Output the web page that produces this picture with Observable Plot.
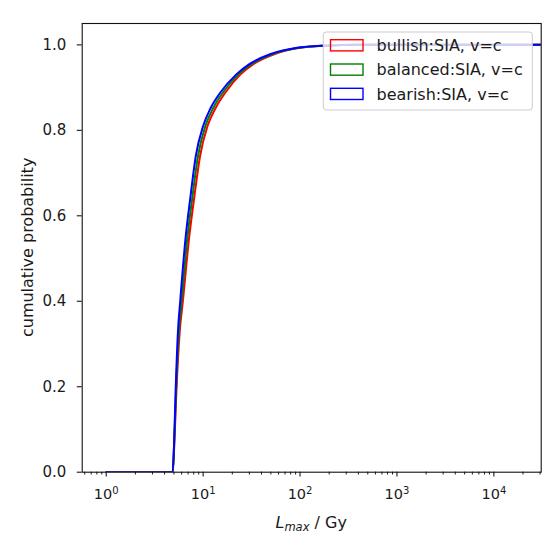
<!DOCTYPE html>
<html>
<head>
<meta charset="utf-8">
<script src="https://cdn.jsdelivr.net/npm/d3@7"></script>
<script src="https://cdn.jsdelivr.net/npm/@observablehq/plot@0.6"></script>
<style>
  html, body { margin: 0; padding: 0; background: white; }
  #chart { position: relative; width: 556px; height: 543px; }
</style>
</head>
<body>
<div id="chart"></div>
<script>
// ---- data ----
const seriesNames = ["bullish:SIA, v=c", "balanced:SIA, v=c", "bearish:SIA, v=c"];
const seriesColors = ["red", "green", "blue"];

const lmaxBullish = [1, 4.85, 5.03, 5.3, 5.74, 6.18, 7.18, 8.12, 9.3, 11.1, 13.5, 16.9, 24.3, 33, 54, 100, 184, 412, 100000];
const cumBullish  = [0, 0, 0.06, 0.19, 0.33, 0.40, 0.55, 0.645, 0.74, 0.81, 0.853, 0.888, 0.931, 0.955, 0.978, 0.993, 0.998, 1.0, 1.0];

const lmaxBalanced = [1, 4.85, 5.01, 5.25, 5.62, 5.99, 6.89, 7.76, 8.85, 10.55, 12.75, 15.95, 23.1, 31.5, 51.4, 96.5, 179, 406, 100000];
const cumBalanced  = [0, 0, 0.06, 0.19, 0.33, 0.40, 0.55, 0.645, 0.74, 0.81, 0.853, 0.888, 0.931, 0.955, 0.978, 0.993, 0.998, 1.0, 1.0];

const lmaxBearish = [1, 4.85, 5.0, 5.2, 5.5, 5.8, 6.6, 7.4, 8.4, 10, 12, 15, 22, 30, 49, 93, 175, 400, 100000];
const cumBearish  = [0, 0, 0.06, 0.19, 0.33, 0.40, 0.55, 0.645, 0.74, 0.81, 0.853, 0.888, 0.931, 0.955, 0.978, 0.993, 0.998, 1.0, 1.0];

const xMajorTicks = [1, 10, 100, 1000, 10000];
const xMinorTicks = [0.6, 0.7, 0.8, 0.9,
  2, 3, 4, 5, 6, 7, 8, 9,
  20, 30, 40, 50, 60, 70, 80, 90,
  200, 300, 400, 500, 600, 700, 800, 900,
  2000, 3000, 4000, 5000, 6000, 7000, 8000, 9000,
  20000, 30000];
const yTicks = [0, 0.2, 0.4, 0.6, 0.8, 1.0];
const yLabel = "cumulative probability";

// ---- build tables ----
const toRows = (xs, ys) => xs.map((x, i) => ({x, y: ys[i]}));
const tables = [
  toRows(lmaxBullish, cumBullish),
  toRows(lmaxBalanced, cumBalanced),
  toRows(lmaxBearish, cumBearish)
];

const W = 556, H = 543;
const mL = 81.7, mR = 15.3, mT = 23, mB = 71.3;

const svg = Plot.plot({
  width: W, height: H,
  marginLeft: mL, marginRight: mR, marginTop: mT, marginBottom: mB,
  style: {fontFamily: "DejaVu Sans", fontSize: "15px", color: "#1a1a1a", background: "white"},
  x: {type: "log", domain: [0.565, 30800]},
  y: {domain: [0, 1.05]},
  marks: [
    ...tables.map((rows, i) => Plot.line(rows, {
      x: "x", y: "y", stroke: seriesColors[i], strokeWidth: 2,
      curve: "monotone-x", clip: true
    })),
    Plot.axisX({ticks: xMinorTicks, tickSize: 2.8, strokeWidth: 1, tickFormat: () => "", label: null}),
    Plot.axisX({ticks: xMajorTicks, tickSize: 4.9, strokeWidth: 1.1, tickPadding: 12,
      tickFormat: d => "10^" + Math.round(Math.log10(d)), label: null, fontSize: 14.5}),
    Plot.axisY({ticks: yTicks, tickSize: 4.9, strokeWidth: 1.1, tickPadding: 11,
      tickFormat: d3.format(".1f"), label: null, fontSize: 15}),
    Plot.frame({stroke: "#111", strokeWidth: 1.1})
  ]
});

const s = d3.select(svg);

// superscript exponents on x tick labels
s.selectAll("text").each(function() {
  const t = this.textContent;
  if (/^10\^\d$/.test(t)) {
    const exp = t.split("^")[1];
    const el = d3.select(this);
    el.text("");
    el.append("tspan").text("10");
    el.append("tspan").attr("font-size", 10).attr("dy", -5.5).text(exp);
  }
});

// y label
s.append("text")
  .attr("transform", `translate(33, ${(mT + H - mB) / 2}) rotate(-90)`)
  .attr("text-anchor", "middle")
  .attr("font-family", "DejaVu Sans")
  .attr("font-size", 16)
  .attr("fill", "#1a1a1a")
  .text(yLabel);

// x label: L_max / Gy
const xl = s.append("text")
  .attr("x", (mL + W - mR) / 2)
  .attr("y", 528)
  .attr("text-anchor", "middle")
  .attr("font-family", "DejaVu Sans")
  .attr("font-size", 16)
  .attr("fill", "#1a1a1a");
xl.append("tspan").attr("font-style", "italic").text("L");
xl.append("tspan").attr("font-style", "italic").attr("font-size", 11.5).attr("dy", 3).text("max");
xl.append("tspan").attr("dy", -3).text(" / Gy");

// legend
const lg = s.append("g").attr("text-anchor", "start");
lg.append("rect")
  .attr("x", 323.3).attr("y", 32).attr("width", 209).attr("height", 78)
  .attr("rx", 3).attr("fill", "white").attr("fill-opacity", 0.8)
  .attr("stroke", "#cccccc").attr("stroke-width", 1);
seriesNames.forEach((name, i) => {
  const cy = 45.3 + i * 24.3;
  lg.append("rect")
    .attr("x", 330.5).attr("y", cy - 5.6).attr("width", 32.5).attr("height", 11.2)
    .attr("fill", "none").attr("stroke", seriesColors[i]).attr("stroke-width", 1.4);
  lg.append("text")
    .attr("x", 376.5).attr("y", cy + 5.8)
    .attr("text-anchor", "start")
    .attr("font-family", "DejaVu Sans").attr("font-size", 16)
    .attr("fill", "#1a1a1a")
    .text(name);
});

document.getElementById("chart").appendChild(svg);
</script>
</body>
</html>
